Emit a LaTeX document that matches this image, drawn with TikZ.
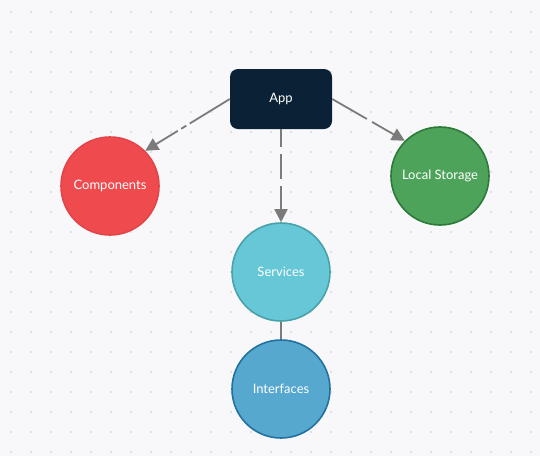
\documentclass[tikz,border=0pt]{standalone}
\usepackage{fontspec}
\setmainfont{Lato}
\usetikzlibrary{arrows.meta}
\definecolor{bgcol}{HTML}{F8F8FA}
\definecolor{dotcol}{HTML}{D9D9DE}
\definecolor{appcol}{HTML}{0B2236}
\definecolor{compcol}{HTML}{EF4B4F}
\definecolor{compline}{HTML}{E34449}
\definecolor{storecol}{HTML}{4EA35A}
\definecolor{storeline}{HTML}{2D7A3A}
\definecolor{servcol}{HTML}{66C7D6}
\definecolor{servline}{HTML}{48A2AC}
\definecolor{intfcol}{HTML}{56A8CF}
\definecolor{intfline}{HTML}{2371A0}
\definecolor{edgecol}{HTML}{7B7B7B}

\begin{document}
\begin{tikzpicture}[x=1pt, y=-1pt,
  every node/.style={text=white, font=\fontsize{13}{15}\selectfont},
  part/.style={circle, minimum size=98pt, inner sep=0pt, line width=1.6pt},
  link/.style={draw=edgecol, line width=1.8pt, dash pattern=on 25pt off 7pt,
    -{Triangle[length=13pt, width=13pt]}}]
\useasboundingbox[fill=bgcol] (0,0) rectangle (540,456);
\foreach \i in {0,...,26}
  \foreach \j in {0,...,22}
    \fill[dotcol] (11+20*\i, 12+20*\j) circle (1.2pt);
\node (App) [rectangle, rounded corners=8pt, fill=appcol, minimum width=102pt, minimum height=60pt] at (281, 99) {App};
\node (Comp) [part, fill=compcol, draw=compline] at (110, 186) {Components};
\node (Store) [part, fill=storecol, draw=storeline] at (440, 176) {Local Storage};
\node (Serv) [part, fill=servcol, draw=servline] at (281, 272) {Services};
\node (Intf) [part, fill=intfcol, draw=intfline] at (281, 389) {Interfaces};
% diagonal links have longer dashes
\draw[link, dash pattern=on 47pt off 4pt on 6pt off 4pt on 80pt] (App.west) -- (Comp.45);
\draw[link, dash pattern=on 40pt off 6pt on 80pt] (App.east) -- (Store.135);
\draw[link, dash phase=7pt] (App.south) -- (Serv.north);
\draw[draw=edgecol, line width=2pt] (Serv.south) -- (Intf.north);
\end{tikzpicture}
\end{document}
